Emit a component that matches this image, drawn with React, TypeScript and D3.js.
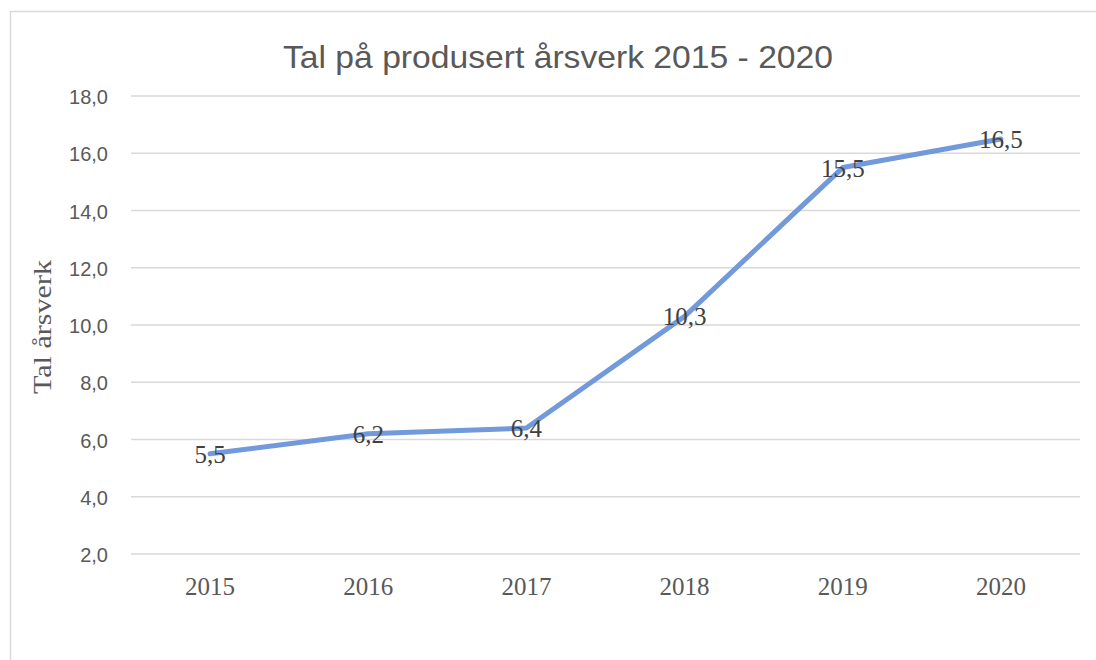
import React from "react";
import * as d3 from "d3";

const years = ["2015", "2016", "2017", "2018", "2019", "2020"];
const values = [5.5, 6.2, 6.4, 10.3, 15.5, 16.5];
const yTicks = [2, 4, 6, 8, 10, 12, 14, 16, 18];
const title = "Tal på produsert årsverk 2015 - 2020";
const yTitle = "Tal årsverk";

const W = 1096, H = 660;
const left = 131, right = 1080, top = 96, bottom = 554;

const fmt = (v: number) => v.toFixed(1).replace(".", ",");

export default function App() {
  // band scale so each year sits in the middle of its slot
  const x = d3.scaleBand().domain(years).range([left, right]).padding(0);
  const y = d3.scaleLinear().domain([2, 18]).range([bottom, top]);
  const cx = (yr: string) => (x(yr) as number) + x.bandwidth() / 2;

  const line = d3.line<number>()
    .x((d, i) => cx(years[i]))
    .y(d => y(d));

  const serif = "'Liberation Serif', 'DejaVu Serif', serif";
  const sans = "'Liberation Sans', 'Open Sans', sans-serif";

  return (
    <div style={{ position: "absolute", left: 0, top: 0 }}>
      <svg width={W} height={H} style={{ display: "block", background: "#fff" }}>
        <rect x={10.5} y={11.5} width={W + 20} height={H + 20} fill="#fff" stroke="#d9d9d9" strokeWidth={1.5} />

        <text x={558} y={68} textAnchor="middle" fontFamily={sans} fontSize={32}
          fill="#595959" textLength={550} lengthAdjust="spacingAndGlyphs">{title}</text>

        {yTicks.map(t => (
          <g key={t}>
            <line x1={left} x2={right} y1={y(t)} y2={y(t)} stroke="#d9d9d9" strokeWidth={1.5} />
            <text x={108} y={y(t) + 8} textAnchor="end" fontFamily={sans} fontSize={20} fill="#595959">{fmt(t)}</text>
          </g>
        ))}

        {years.map(yr => (
          <text key={yr} x={cx(yr)} y={595} textAnchor="middle" fontFamily={serif} fontSize={25} fill="#595959">{yr}</text>
        ))}

        <text transform={`translate(51,${(top + bottom) / 2 + 2}) rotate(-90)`} textAnchor="middle"
          fontFamily={serif} fontSize={25} fill="#595959" textLength={134} lengthAdjust="spacingAndGlyphs">{yTitle}</text>

        <path d={line(values) || ""} fill="none" stroke="#7299d9" strokeWidth={5}
          strokeLinejoin="round" strokeLinecap="round" />

        {values.map((v, i) => (
          <text key={i} x={cx(years[i])} y={y(v) + 9} textAnchor="middle" fontFamily={serif}
            fontSize={25} fill="#404040">{fmt(v)}</text>
        ))}
      </svg>
    </div>
  );
}
